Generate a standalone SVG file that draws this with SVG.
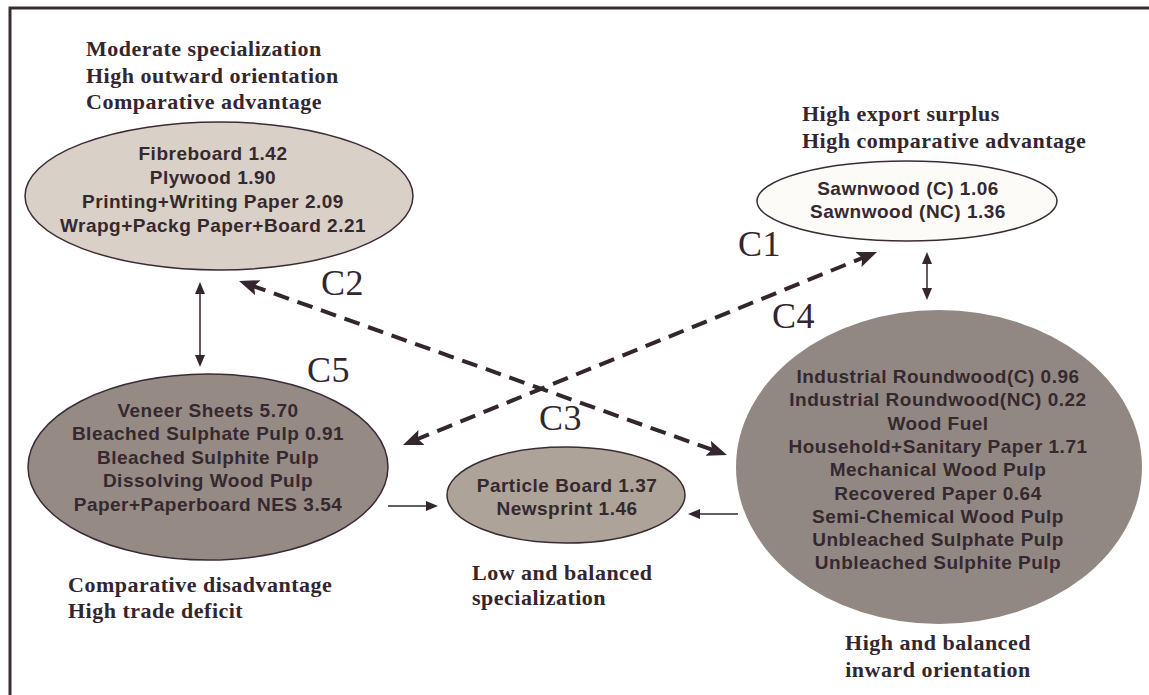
<svg xmlns="http://www.w3.org/2000/svg" width="1149" height="695" viewBox="0 0 1149 695">
<style>
.frame{fill:none;stroke:#3a2c35;stroke-width:3}
.node{stroke:#3a2c35;stroke-width:1.5}
.hdr{font-family:"Liberation Serif","Times New Roman",serif;font-weight:bold;font-size:22px;letter-spacing:0.5px;fill:#33262e}
.body{font-family:"Liberation Sans",Arial,sans-serif;font-weight:bold;font-size:19px;letter-spacing:0.5px;fill:#35282f;text-anchor:middle}
.clab{font-family:"Liberation Serif","Times New Roman",serif;font-size:36px;letter-spacing:0.5px;fill:#33262e}
.dash{fill:none;stroke:#33262e;stroke-width:4;stroke-dasharray:16 9}
.solid{fill:none;stroke:#33262e;stroke-width:1.5}
</style>
<defs>
<marker id="big" viewBox="0 0 20 16" refX="8" refY="8" markerWidth="20" markerHeight="16" markerUnits="userSpaceOnUse" orient="auto-start-reverse">
<path d="M0,0 L20,8 L0,16 L4,8 z" fill="#33262e"/>
</marker>
<marker id="small" viewBox="0 0 12 10" refX="5" refY="5" markerWidth="12" markerHeight="10" markerUnits="userSpaceOnUse" orient="auto-start-reverse">
<path d="M0,0 L12,5 L0,10 z" fill="#33262e"/>
</marker>
</defs>
<rect width="1149" height="695" fill="#ffffff"/>
<rect class="frame" x="10" y="8" width="1160" height="700"/>

<g id="node-c2">
<text class="hdr" x="86" y="56">Moderate specialization</text>
<text class="hdr" x="86" y="83">High outward orientation</text>
<text class="hdr" x="86" y="109">Comparative advantage</text>
<ellipse class="node" cx="219" cy="196" rx="194" ry="74" fill="#d9d0c7"/>
<text class="body" x="213" y="160">Fibreboard 1.42</text>
<text class="body" x="213" y="184">Plywood 1.90</text>
<text class="body" x="213" y="208">Printing+Writing Paper 2.09</text>
<text class="body" x="213" y="232">Wrapg+Packg Paper+Board 2.21</text>
</g>

<g id="node-c1">
<text class="hdr" x="802" y="121">High export surplus</text>
<text class="hdr" x="802" y="148">High comparative advantage</text>
<ellipse class="node" cx="907" cy="201" rx="150" ry="40" fill="#fdfbf8"/>
<text class="body" x="908" y="195">Sawnwood (C) 1.06</text>
<text class="body" x="908" y="218">Sawnwood (NC) 1.36</text>
</g>

<g id="node-c5">
<ellipse class="node" cx="208" cy="467" rx="180" ry="93" fill="#958a84"/>
<text class="body" x="208" y="417">Veneer Sheets 5.70</text>
<text class="body" x="208" y="440">Bleached Sulphate Pulp 0.91</text>
<text class="body" x="208" y="464">Bleached Sulphite Pulp</text>
<text class="body" x="208" y="487">Dissolving Wood Pulp</text>
<text class="body" x="208" y="511">Paper+Paperboard NES 3.54</text>
<text class="hdr" x="68" y="592">Comparative disadvantage</text>
<text class="hdr" x="68" y="618">High trade deficit</text>
</g>

<g id="node-c3">
<ellipse class="node" cx="566" cy="495" rx="119" ry="48" fill="#ada398"/>
<text class="body" x="567" y="492">Particle Board 1.37</text>
<text class="body" x="567" y="515">Newsprint 1.46</text>
<text class="hdr" x="472" y="580">Low and balanced</text>
<text class="hdr" x="472" y="605">specialization</text>
</g>

<g id="node-c4">
<ellipse cx="939" cy="467" rx="203" ry="157" fill="#928883"/>
<text class="body" x="938" y="383">Industrial Roundwood(C) 0.96</text>
<text class="body" x="938" y="406">Industrial Roundwood(NC) 0.22</text>
<text class="body" x="938" y="430">Wood Fuel</text>
<text class="body" x="938" y="453">Household+Sanitary Paper 1.71</text>
<text class="body" x="938" y="476">Mechanical Wood Pulp</text>
<text class="body" x="938" y="500">Recovered Paper 0.64</text>
<text class="body" x="938" y="523">Semi-Chemical Wood Pulp</text>
<text class="body" x="938" y="546">Unbleached Sulphate Pulp</text>
<text class="body" x="938" y="569">Unbleached Sulphite Pulp</text>
<text class="hdr" x="938" y="650" text-anchor="middle">High and balanced</text>
<text class="hdr" x="938" y="677" text-anchor="middle">inward orientation</text>
</g>

<g id="connectors">
<line class="dash" x1="250.3" y1="285" x2="715.7" y2="451" marker-start="url(#big)" marker-end="url(#big)"/>
<line class="dash" x1="414.1" y1="440.5" x2="865.9" y2="256.5" marker-start="url(#big)" marker-end="url(#big)"/>
<line class="solid" x1="200" y1="289" x2="200" y2="360" marker-start="url(#small)" marker-end="url(#small)"/>
<line class="solid" x1="927" y1="259" x2="927" y2="293" marker-start="url(#small)" marker-end="url(#small)"/>
<line class="solid" x1="388" y1="506" x2="431" y2="506" marker-end="url(#small)"/>
<line class="solid" x1="738" y1="514" x2="695" y2="514" marker-end="url(#small)"/>
<text class="clab" x="321" y="295">C2</text>
<text class="clab" x="307" y="382">C5</text>
<text class="clab" x="738" y="256">C1</text>
<text class="clab" x="772" y="328">C4</text>
<text class="clab" x="539" y="430">C3</text>
</g>
</svg>
